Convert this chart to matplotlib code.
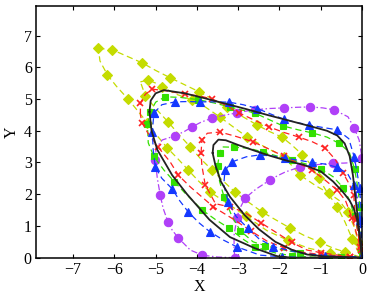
import matplotlib
matplotlib.use("Agg")
import matplotlib.pyplot as plt

plt.rcParams['font.family'] = ['Liberation Serif', 'DejaVu Serif']

# ---- data (x, y) ----
black_outer = [(-5.15,4.6),(-5.12,4.95),(-5.0,5.18),(-4.8,5.28),(-4.3,5.18),(-3.8,5.02),(-3.3,4.85),
               (-2.8,4.68),(-2.3,4.5),(-1.8,4.33),(-1.3,4.16),(-0.85,4.0),(-0.6,3.85),(-0.42,3.6),
               (-0.3,3.2),(-0.22,2.6),(-0.15,1.8),(-0.08,1.0),(-0.03,0.4),(0.0,0.0),(-0.5,0.0),
               (-1.2,0.0),(-1.7,0.0),(-2.06,0.05),(-2.6,0.3),(-3.2,0.65),(-3.7,1.2),(-4.24,2.0),
               (-4.6,2.6),(-4.96,3.4),(-5.1,4.0),(-5.15,4.6)]
black_inner = [(-3.62,3.3),(-3.6,3.55),(-3.48,3.72),(-3.3,3.7),(-3.0,3.55),(-2.6,3.37),(-2.2,3.2),
               (-1.8,3.05),(-1.4,2.92),(-1.0,2.72),(-0.7,2.4),(-0.45,2.05),(-0.3,1.8),(-0.2,1.55),
               (-0.12,1.2),(-0.06,0.7),(-0.02,0.25),(0.0,0.0),(-0.4,0.02),(-0.9,0.04),(-1.33,0.1),
               (-1.7,0.25),(-2.1,0.5),(-2.5,0.9),(-2.85,1.35),(-3.2,1.92),(-3.42,2.4),(-3.55,2.9),
               (-3.62,3.3)]
blue_outer = [(-5.04,4.56),(-4.85,4.82),(-4.53,4.91),(-4.22,4.92),(-3.92,4.91),(-3.57,4.91),
              (-3.22,4.9),(-2.88,4.82),(-2.54,4.7),(-2.2,4.52),(-1.89,4.36),(-1.58,4.26),
              (-1.28,4.18),(-0.94,4.1),(-0.6,4.03),(-0.32,3.75),(-0.19,3.18),(-0.12,2.7),
              (-0.06,2.2),(-0.03,1.7),(-0.02,1.2),(-0.01,0.6),(0.0,0.05),(-0.5,0.0),(-1.0,0.0),
              (-1.5,0.01),(-1.95,0.03),(-2.47,0.08),(-3.03,0.34),(-3.35,0.55),(-3.68,0.81),
              (-3.95,1.1),(-4.21,1.44),(-4.42,1.8),(-4.6,2.17),(-4.85,2.5),(-5.01,2.86),
              (-5.06,3.4),(-5.08,3.97),(-5.06,4.3),(-5.04,4.56)]
blue_inner = [(-3.15,3.02),(-2.8,3.18),(-2.47,3.24),(-2.15,3.2),(-1.86,3.14),(-1.5,3.06),
              (-1.2,3.0),(-0.9,2.95),(-0.6,2.85),(-0.35,2.65),(-0.2,2.3),(-0.1,1.8),(-0.05,1.2),
              (-0.02,0.6),(0.0,0.05),(-0.4,0.02),(-0.9,0.06),(-1.5,0.15),(-2.15,0.35),(-2.5,0.6),
              (-2.76,0.92),(-3.05,1.3),(-3.24,1.75),(-3.35,2.3),(-3.32,2.75),(-3.15,3.02)]
red_outer = [(-5.37,4.5),(-5.37,4.87),(-5.25,5.15),(-5.08,5.31),(-4.7,5.25),(-4.3,5.15),(-3.95,5.1),
             (-3.63,5.0),(-3.3,4.8),(-2.98,4.56),(-2.6,4.33),(-2.25,4.12),(-1.9,3.95),(-1.53,3.8),
             (-1.2,3.65),(-0.9,3.46),(-0.65,3.1),(-0.46,2.67),(-0.3,2.3),(-0.2,1.97),(-0.18,1.6),
             (-0.15,1.2),(-0.1,0.8),(-0.05,0.35),(0.0,0.0),(-0.3,0.02),(-0.6,0.06),(-1.0,0.1),
             (-1.5,0.18),(-1.9,0.32),(-2.3,0.52),(-2.7,0.85),(-3.1,1.2),(-3.6,1.6),(-4.16,2.23),
             (-4.45,2.6),(-4.65,3.02),(-4.95,3.5),(-5.2,3.95),(-5.33,4.25),(-5.37,4.5)]
red_inner = [(-3.9,3.3),(-3.88,3.7),(-3.75,3.92),(-3.44,3.96),(-3.05,3.82),(-2.64,3.65),(-2.25,3.42),
             (-1.9,3.2),(-1.55,2.98),(-1.21,2.76),(-0.9,2.45),(-0.6,2.13),(-0.4,1.8),(-0.24,1.25),
             (-0.12,0.7),(-0.03,0.25),(0.0,0.0),(-0.3,0.03),(-0.7,0.1),(-1.0,0.16),(-1.33,0.24),
             (-1.7,0.48),(-2.06,0.78),(-2.45,1.1),(-2.86,1.44),(-3.2,1.6),(-3.55,1.7),(-3.8,2.3),
             (-3.88,2.9),(-3.9,3.3)]
green_outer = [(-5.2,4.2),(-5.13,4.6),(-5.0,4.9),(-4.77,5.07),(-4.4,5.05),(-3.98,4.98),(-3.6,4.88),
               (-3.2,4.75),(-2.9,4.65),(-2.6,4.56),(-2.25,4.35),(-1.91,4.15),(-1.55,4.03),(-1.2,3.93),
               (-0.85,3.8),(-0.55,3.6),(-0.31,3.33),(-0.18,2.8),(-0.1,2.2),(-0.05,1.6),(-0.02,0.8),
               (0.0,0.1),(-0.3,0.0),(-0.8,0.0),(-1.2,0.02),(-1.7,0.06),(-2.1,0.15),(-2.6,0.34),
               (-2.9,0.6),(-3.22,0.93),(-3.55,1.2),(-3.87,1.5),(-4.3,2.05),(-4.55,2.4),(-4.8,2.76),
               (-5.05,3.2),(-5.18,3.62),(-5.2,4.2)]
green_inner = [(-3.5,2.9),(-3.45,3.3),(-3.39,3.49),(-3.1,3.48),(-2.75,3.45),(-2.4,3.33),(-2.05,3.2),
               (-1.7,3.08),(-1.35,2.95),(-1.0,2.8),(-0.7,2.55),(-0.45,2.2),(-0.3,1.8),(-0.18,1.3),
               (-0.08,0.7),(-0.02,0.25),(0.0,0.0),(-0.5,0.03),(-1.0,0.08),(-1.5,0.15),(-2.0,0.27),
               (-2.35,0.38),(-2.64,0.5),(-2.95,0.85),(-3.15,1.3),(-3.34,1.9),(-3.45,2.4),(-3.5,2.9)]
yellow_outer = [(-6.39,6.6),(-6.05,6.55),(-5.7,6.35),(-5.33,6.14),(-5.0,5.9),(-4.65,5.67),(-4.3,5.45),
                (-3.95,5.23),(-3.6,4.98),(-3.27,4.75),(-2.9,4.45),(-2.54,4.18),(-2.25,3.98),
                (-1.94,3.8),(-1.7,3.55),(-1.45,3.25),(-1.25,2.95),(-1.05,2.5),(-0.85,2.07),
                (-0.6,1.6),(-0.41,1.12),(-0.24,0.6),(-0.1,0.2),(0.0,0.0),(-0.3,0.05),(-0.77,0.15),
                (-1.3,0.3),(-1.8,0.55),(-2.3,0.85),(-2.8,1.3),(-3.25,1.7),(-3.68,2.07),(-3.95,2.4),
                (-4.21,2.76),(-4.45,3.1),(-4.72,3.46),(-5.0,3.9),(-5.2,4.25),(-5.45,4.65),
                (-5.67,5.0),(-5.95,5.4),(-6.17,5.76),(-6.35,6.2),(-6.39,6.6)]
yellow_inner = [(-5.37,5.54),(-5.18,5.6),(-5.0,5.5),(-4.84,5.38),(-4.5,5.15),(-4.12,4.97),(-3.8,4.75),
                (-3.44,4.43),(-3.1,4.1),(-2.78,3.8),(-2.3,3.45),(-1.89,3.18),(-1.7,2.9),(-1.5,2.6),
                (-1.1,2.25),(-0.8,2.03),(-0.55,1.8),(-0.35,1.45),(-0.19,0.97),(-0.08,0.45),(0.0,0.0),
                (-0.41,0.18),(-0.7,0.3),(-1.02,0.49),(-1.4,0.7),(-1.74,0.93),(-2.1,1.2),(-2.42,1.44),
                (-2.75,1.75),(-3.08,2.07),(-3.35,2.4),(-3.63,2.76),(-3.9,3.1),(-4.16,3.49),
                (-4.45,3.9),(-4.7,4.28),(-5.0,4.7),(-5.25,5.1),(-5.37,5.54)]
purple_loop = [(-3.08,0.0),(-3.5,0.02),(-3.87,0.08),(-4.16,0.24),(-4.45,0.62),(-4.6,0.87),(-4.7,1.12),
               (-4.82,1.56),(-4.89,1.98),(-4.96,2.5),(-5.01,3.08),(-4.99,3.46),(-4.84,3.71),
               (-4.53,3.84),(-4.3,3.98),(-4.12,4.12),(-3.9,4.27),(-3.63,4.4),(-3.3,4.5),(-3.03,4.56),
               (-2.8,4.62),(-2.59,4.66),(-2.25,4.7),(-1.89,4.72),(-1.55,4.74),(-1.26,4.75),
               (-0.95,4.72),(-0.68,4.66),(-0.34,4.44),(-0.19,4.09),(-0.07,3.71),(0.0,3.14),
               (-0.17,3.0),(-0.45,2.98),(-0.7,2.98),(-1.1,2.93),(-1.5,2.86),(-1.86,2.7),(-2.05,2.58),
               (-2.23,2.45),(-2.57,2.16),(-2.83,1.88),(-2.98,1.5),(-3.03,1.25),(-3.1,0.71),
               (-3.1,0.24),(-3.08,0.0)]
purple_marks = [0,2,4,6,8,10,13,15,17,19,21,23,25,27,29,31,34,36,39,41,43]

x_ticks = [-7, -6, -5, -4, -3, -2, -1, 0]
y_ticks = [0, 1, 2, 3, 4, 5, 6, 7]

fig = plt.figure(figsize=(3.74, 2.97), dpi=100)
ax = fig.add_axes([36/374, (297-257.7)/297, (362-36)/374, (257.7-6)/297])

def draw(pts, color, dashes, marker, ms, mfc, lw=0.9, every=2, mew=0.8, z=2):
    xs = [p[0] for p in pts]
    ys = [p[1] for p in pts]
    ax.plot(xs, ys, color=color, lw=lw, dashes=dashes, marker=marker, ms=ms,
            mfc=mfc, mec=color, mew=mew, markevery=every, zorder=z)

YEL = '#c4dc00'
GRN = '#33e000'
BLU = '#1438ff'
RED = '#ff2222'
PUR = '#b040f8'

draw(yellow_outer, YEL, (5, 3), 'D', 5.6, YEL, every=(1, 2))
draw(yellow_inner, YEL, (5, 3), 'D', 5.6, YEL, every=(1, 2))
draw(purple_loop, PUR, (5, 2, 1.2, 2), 'o', 6.0, PUR, every=purple_marks)
draw(green_outer, GRN, (5, 3), 's', 4.6, GRN, every=(1, 2))
draw(green_inner, GRN, (5, 3), 's', 4.6, GRN, every=(1, 2))
draw(red_outer, RED, (5, 3), 'x', 4.5, RED, every=(1, 2), mew=1.2)
draw(red_inner, RED, (5, 3), 'x', 4.5, RED, every=(1, 2), mew=1.2)
draw(blue_outer, BLU, (5, 3), '^', 5.6, BLU, every=(0, 2))
draw(blue_inner, BLU, (5, 3), '^', 5.6, BLU, every=(0, 2))
for loop in (black_outer, black_inner):
    ax.plot([p[0] for p in loop], [p[1] for p in loop], color='#222222', lw=1.3, zorder=3)

ax.set_xlim(-7.9, 0)
ax.set_ylim(0, 7.93)
ax.set_xticks(x_ticks)
ax.set_yticks(y_ticks)
ax.tick_params(direction='in', length=3, width=0.8, top=True, right=True,
               labelsize=11.5, pad=3)
for s in ax.spines.values():
    s.set_linewidth(1.1)
ax.set_xlabel('X', fontsize=11.5, labelpad=1)
ax.set_ylabel('Y', fontsize=11.5, labelpad=3)

fig.savefig('out.png', dpi=100)
